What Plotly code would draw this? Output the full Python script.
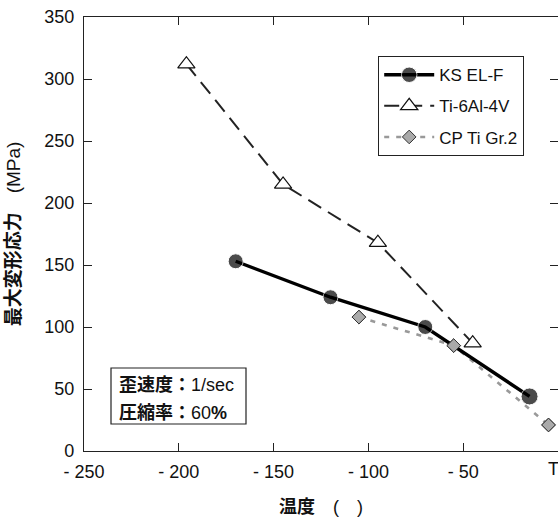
import plotly.graph_objects as go

# ---- data ----
ks_x = [-170, -120, -70, -15]
ks_y = [153, 124, 100, 44]

ti_x = [-196, -145, -95, -45]
ti_y = [312, 215, 168, 87]

cp_x = [-105, -55, -5]
cp_y = [108, 85, 21]

x_tickvals = [-250, -200, -150, -100, -50, 0]
x_ticktext = ["- 250", "- 200", "- 150", "- 100", "- 50", ""]
y_tickvals = [0, 50, 100, 150, 200, 250, 300, 350]

names = ["KS EL-F", "Ti-6Al-4V", "CP Ti Gr.2"]
x_title = "<b>温度</b>\u3000(\u3000)"
y_title = "<b>最大変形応力</b>\u3000(MPa)"
note_lines = ["<b>歪速度：</b>1/sec", "<b>圧縮率：</b>60<b>%</b>"]
edge_label = "T"

FONT = "Liberation Sans, Arial, Noto Sans CJK JP, sans-serif"

fig = go.Figure()

# Ti-6Al-4V
fig.add_trace(go.Scatter(
    x=ti_x, y=ti_y, name=names[1], mode="lines+markers",
    line=dict(color="#222222", width=2, dash="15px,8px"),
    marker=dict(symbol="triangle-up", size=15, color="white",
                line=dict(color="#111111", width=1.2)),
    legendrank=2, legendgroup="b",
))
# CP Ti Gr.2 (line + markers, below KS)
fig.add_trace(go.Scatter(
    x=cp_x, y=cp_y, name=names[2], mode="lines+markers",
    line=dict(color="#999999", width=2.6, dash="5px,7px"),
    marker=dict(symbol="diamond", size=10.5, color="#aaaaaa",
                line=dict(color="#333333", width=1)),
    legendrank=3, legendgroup="c",
))
# KS EL-F
fig.add_trace(go.Scatter(
    x=ks_x, y=ks_y, name=names[0], mode="lines+markers",
    line=dict(color="black", width=3.4),
    marker=dict(symbol="circle", size=[15, 15, 15, 17], color="black"),
    legendrank=1, legendgroup="a",
))
# CP markers on top
fig.add_trace(go.Scatter(
    x=cp_x, y=cp_y, mode="markers", showlegend=False, legendgroup="c",
    marker=dict(symbol="diamond", size=10.5, color="#aaaaaa",
                line=dict(color="#333333", width=1)),
))

axis_common = dict(
    showline=True, linecolor="#222222", linewidth=1.3,
    ticks="inside", ticklen=8, tickcolor="#222222", tickwidth=1.2,
    mirror="ticks", showgrid=False, zeroline=False,
    tickfont=dict(family=FONT, size=18, color="#111111"),
)

fig.update_xaxes(range=[-250, 0], tickvals=x_tickvals, ticktext=x_ticktext,
                 title=dict(text=x_title, font=dict(family=FONT, size=18, color="#111111"),
                            standoff=19),
                 ticklabelstandoff=4, **axis_common)
fig.update_yaxes(range=[0, 350], tickvals=y_tickvals,
                 title=dict(text=y_title, font=dict(family=FONT, size=19, color="#111111"),
                            standoff=18),
                 ticklabelstandoff=5, **axis_common)

# note box
fig.add_shape(type="rect", xref="paper", yref="paper",
              x0=(111 - 84) / 474, x1=(246 - 84) / 474,
              y0=(451 - 424) / 434, y1=(451 - 368) / 434,
              line=dict(color="#222222", width=1.2), fillcolor="white", layer="above")
for i, t in enumerate(note_lines):
    fig.add_annotation(text=t, xref="paper", yref="paper",
                       x=(117 - 84) / 474, y=(451 - (385 + 28 * i)) / 434,
                       xanchor="left", yanchor="middle", showarrow=False,
                       font=dict(family=FONT, size=18, color="#111111"))

fig.add_annotation(text=edge_label, xref="paper", yref="paper",
                   x=(553 - 84) / 474, y=0, yanchor="top", yshift=-6,
                   xanchor="center", showarrow=False,
                   font=dict(family=FONT, size=18, color="#111111"))

fig.update_layout(
    width=558, height=517,
    margin=dict(l=84, r=0, t=17, b=66),
    paper_bgcolor="white", plot_bgcolor="white",
    font=dict(family=FONT, size=17, color="#111111"),
    legend=dict(x=(378 - 84) / 474, y=(451 - 56) / 434, xanchor="left", yanchor="top",
                bordercolor="#222222", borderwidth=1.2, bgcolor="white",
                font=dict(family=FONT, size=17, color="#111111"),
                traceorder="grouped", tracegroupgap=6, itemwidth=50),
    showlegend=True,
)

fig.write_html("out.html")
